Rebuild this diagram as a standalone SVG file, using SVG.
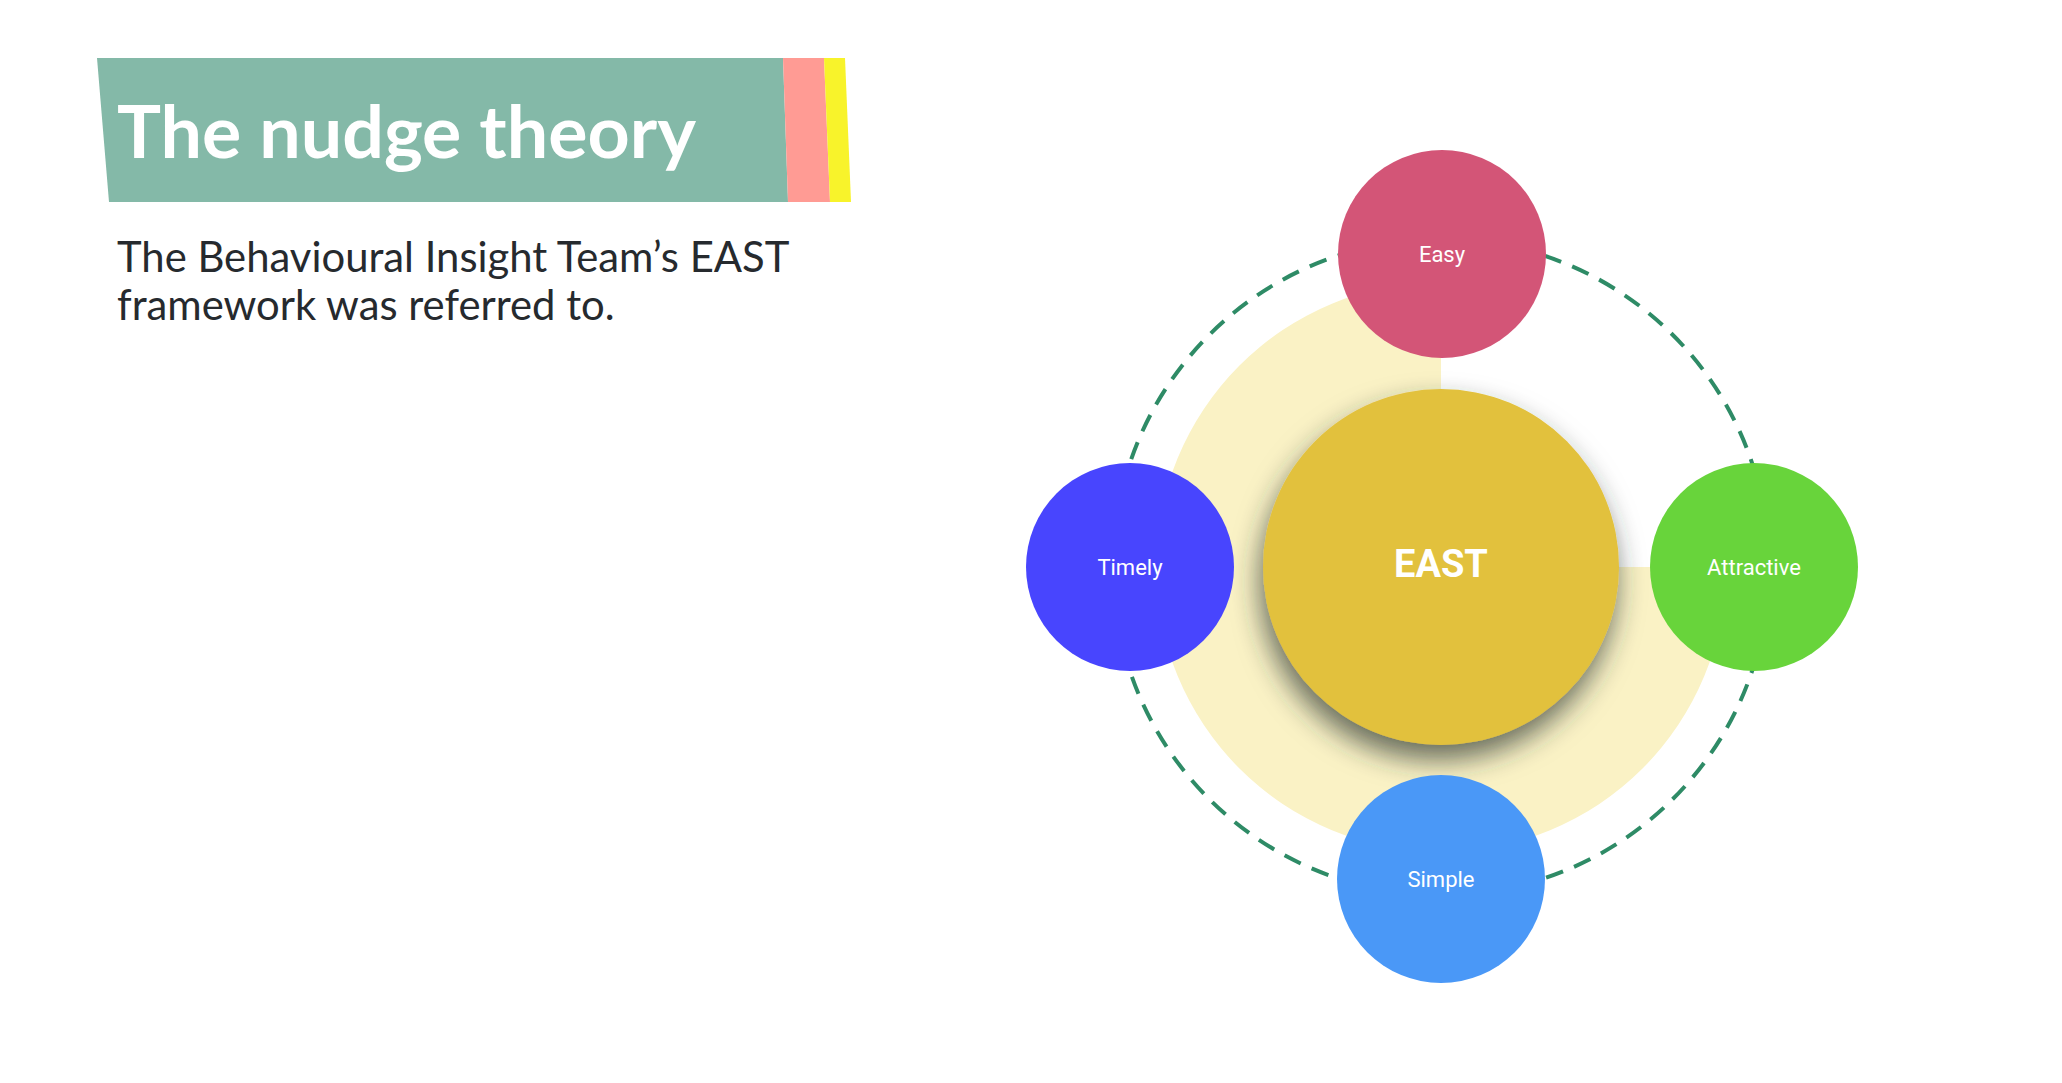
<svg xmlns="http://www.w3.org/2000/svg" width="2062" height="1083" viewBox="0 0 2062 1083">
<defs>
<style>
.lbl{font-family:Roboto,"Liberation Sans",sans-serif;font-size:22px;fill:#ffffff;text-anchor:middle}
.sub{font-family:Lato,"Liberation Sans",sans-serif;font-size:41.8px;fill:#262a2e}
</style>
<filter id="sh" x="-30%" y="-30%" width="160%" height="170%">
<feDropShadow dx="-3" dy="15" stdDeviation="14" flood-color="#26332f" flood-opacity="0.7"/>
</filter>
</defs>
<rect width="2062" height="1083" fill="#ffffff"/>
<g id="title">
<polygon points="97,58 783,58 788,202 109,202" fill="#84b9a8"/>
<polygon points="783,58 824,58 830,202 788,202" fill="#ff9b94"/>
<polygon points="824,58 845,58 851,202 830,202" fill="#f8f32b"/>
<text x="117" y="158" font-family="Lato,'Liberation Sans',sans-serif" font-weight="700" font-size="73" fill="#ffffff" textLength="579" lengthAdjust="spacingAndGlyphs">The nudge theory</text>
</g>
<g id="subtitle">
<text class="sub" x="117" y="272">The Behavioural Insight Team’s EAST</text>
<text class="sub" x="117" y="320">framework was referred to.</text>
</g>
<g id="background">
<path d="M1441,282 A285,285 0 1,0 1726,567 L1441,567 Z" fill="#faf2c5"/>
</g>
<g id="connectors">
<circle cx="1441" cy="567" r="328" fill="none" stroke="#2e8b66" stroke-width="4" stroke-dasharray="18 12"/>
</g>
<g id="east">
<circle cx="1441" cy="567" r="178" fill="#e2c13c" filter="url(#sh)"/>
<text x="1441" y="577" font-family="Roboto,'Liberation Sans',sans-serif" font-weight="700" font-size="38" fill="#ffffff" text-anchor="middle">EAST</text>
</g>
<g id="easy">
<circle cx="1442" cy="254" r="104" fill="#d35577"/>
<text class="lbl" x="1442" y="262">Easy</text>
</g>
<g id="timely">
<circle cx="1130" cy="567" r="104" fill="#4845fe"/>
<text class="lbl" x="1130" y="575">Timely</text>
</g>
<g id="attractive">
<circle cx="1754" cy="567" r="104" fill="#68d43b"/>
<text class="lbl" x="1754" y="575">Attractive</text>
</g>
<g id="simple">
<circle cx="1441" cy="879" r="104" fill="#4a98f7"/>
<text class="lbl" x="1441" y="887">Simple</text>
</g>
</svg>
